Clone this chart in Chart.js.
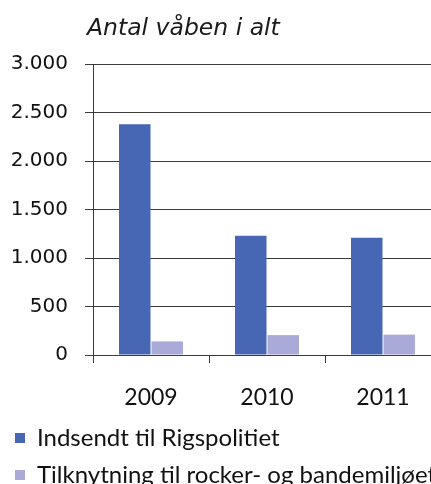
<!DOCTYPE html>
<html>
<head>
<meta charset="utf-8">
<script src="https://cdn.jsdelivr.net/npm/chart.js@4"></script>
<style>
    html, body { margin: 0; padding: 0; background: #fff; overflow: hidden; }
    #wrap { position: relative; width: 445px; height: 484px; }
    #title {
        position: absolute; left: 87px; top: 16px; line-height: 1;
        font-family: "DejaVu Sans", sans-serif; font-style: italic;
        font-size: 23.5px; color: #1a1a1a; white-space: nowrap;
    }
</style>
</head>
<body>
<div id="wrap">
    <div id="title">Antal våben i alt</div>
    <canvas id="weaponsChart" width="445" height="484"></canvas>
</div>
<script>
// Data
const years = ['2009', '2010', '2011'];
const sentToPolice = [2380, 1230, 1210];
const rockerGangs = [140, 205, 210];
const seriesNames = ['Indsendt til Rigspolitiet', 'Tilknytning til rocker- og bandemiljøet'];

const fmt = v => v.toLocaleString('da-DK');

const ctx = document.getElementById('weaponsChart');
new Chart(ctx, {
    type: 'bar',
    data: {
        labels: years,
        datasets: [{
            label: seriesNames[0],
            data: sentToPolice,
            backgroundColor: '#4766b4',
            borderWidth: 0
        }, {
            label: seriesNames[1],
            data: rockerGangs,
            backgroundColor: '#aaaad8',
            borderWidth: 0
        }]
    },
    options: {
        responsive: false,
        animation: false,
        layout: { padding: { top: 64, left: 2, right: 4, bottom: -13 } },
        datasets: { bar: { categoryPercentage: 0.56, barPercentage: 0.97 } },
        plugins: {
            tooltip: { enabled: false },
            legend: {
                position: 'bottom',
                align: 'start',
                labels: {
                    boxWidth: 10,
                    boxHeight: 10,
                    padding: 13,
                    color: '#111',
                    font: { family: 'Lato', size: 24 }
                }
            }
        },
        scales: {
            y: {
                min: 0,
                max: 3000,
                afterFit: s => { s.width = 91; },
                ticks: {
                    stepSize: 500,
                    padding: 17,
                    color: '#111',
                    font: { family: 'DejaVu Sans', size: 20 },
                    callback: v => fmt(v)
                },
                grid: { color: '#3a3a3a', tickLength: 8, lineWidth: 1 },
                border: { color: '#3a3a3a', width: 1 }
            },
            x: {
                afterFit: s => { s.height = 58; },
                ticks: {
                    padding: 23,
                    color: '#111',
                    font: { family: 'Lato', size: 23, lineHeight: 1 }
                },
                grid: { color: '#3a3a3a', tickLength: 8, drawOnChartArea: false, offset: true },
                border: { color: '#3a3a3a', width: 1 }
            }
        }
    }
});
</script>
</body>
</html>
